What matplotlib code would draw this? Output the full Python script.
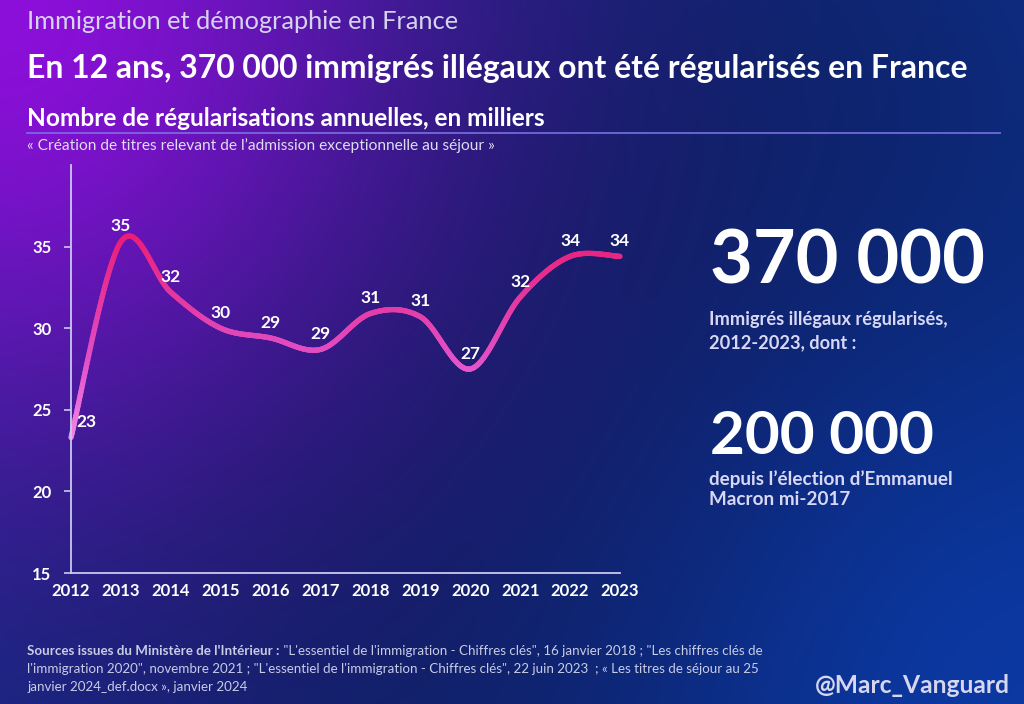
import numpy as np
import matplotlib
matplotlib.use("Agg")
import matplotlib.pyplot as plt
from matplotlib.path import Path
from matplotlib.collections import LineCollection
from matplotlib.colors import LinearSegmentedColormap, to_rgb

# ---------------- data ----------------
years = [2012, 2013, 2014, 2015, 2016, 2017, 2018, 2019, 2020, 2021, 2022, 2023]
values = [23.3, 35.3, 32.2, 30.0, 29.4, 28.7, 30.9, 30.7, 27.5, 31.9, 34.4, 34.4]
value_labels = ["23", "35", "32", "30", "29", "29", "31", "31", "27", "32", "34", "34"]
yticks = [15, 20, 25, 30, 35]

kicker = "Immigration et démographie en France"
title = "En 12 ans, 370 000 immigrés illégaux ont été régularisés en France"
subtitle = "Nombre de régularisations annuelles, en milliers"
note = "« Création de titres relevant de l’admission exceptionnelle au séjour »"
big1 = "370 000"
big1_text = ["Immigrés illégaux régularisés,", "2012-2023, dont :"]
big2 = "200 000"
big2_text = ["depuis l’élection d’Emmanuel", "Macron mi-2017"]
src_bold = "Sources issues du Ministère de l'Intérieur :"
src_lines = [
    " \"L'essentiel de l'immigration - Chiffres clés\", 16 janvier 2018 ; \"Les chiffres clés de",
    "l'immigration 2020\", novembre 2021 ; \"L'essentiel de l'immigration - Chiffres clés\", 22 juin 2023  ; « Les titres de séjour au 25",
    "janvier 2024_def.docx », janvier 2024",
]
handle = "@Marc_Vanguard"

FONT = ["Lato", "DejaVu Sans"]
W, H = 1024, 704
fig = plt.figure(figsize=(W / 100, H / 100), dpi=100)
renderer = fig.canvas.get_renderer()


def fy(py):
    return 1 - py / H


def fx(px):
    return px / W


def fit(t, target_w):
    bb = t.get_window_extent(renderer)
    t.set_fontsize(t.get_fontsize() * target_w / bb.width)
    return t


# ---------------- background ----------------
bg = fig.add_axes([0, 0, 1, 1], zorder=-10)
gh, gw = 352, 512
yy, xx = np.mgrid[0:gh, 0:gw]
x = xx / gw
y = yy / gw
base = np.array(to_rgb("#0a1c56"))
outer = np.array(to_rgb("#0d2a7a"))
violet = np.array(to_rgb("#8c0fd9"))
blue = np.array(to_rgb("#0b3aa6"))
dc = np.sqrt((x - 0.5) ** 2 + (y - 0.38) ** 2)
w0 = np.clip(dc / 0.62, 0, 1) ** 2
img = base[None, None, :] * (1 - w0[..., None]) + outer[None, None, :] * w0[..., None]
d2 = np.sqrt((1 - x) ** 2 + (0.6875 - y) ** 2)
w2 = 0.9 * np.exp(-(d2 / 0.4) ** 2)
img = img * (1 - w2[..., None]) + blue[None, None, :] * w2[..., None]
d1 = np.sqrt(x ** 2 + (y * 0.9) ** 2)
w1 = np.exp(-(d1 / 0.42) ** 1.9)
img = img * (1 - w1[..., None]) + violet[None, None, :] * w1[..., None]
bg.imshow(img, extent=[0, 1, 0, 1], aspect="auto", interpolation="bilinear")
bg.set_xlim(0, 1)
bg.set_ylim(0, 1)
bg.axis("off")

# ---------------- headers ----------------
t = fig.text(fx(27), fy(29), kicker, color="#d6d4ec", fontsize=17, family=FONT,
             fontweight="normal", va="baseline", ha="left")
fit(t, 432)
t = fig.text(fx(27), fy(78), title, color="white", fontsize=22, family=FONT,
             fontweight="bold", va="baseline", ha="left")
fit(t, 941)
t = fig.text(fx(27), fy(126), subtitle, color="white", fontsize=16, family=FONT,
             fontweight="bold", va="baseline", ha="left")
fit(t, 521)
fig.add_artist(plt.Line2D([fx(27), fx(1000)], [fy(133), fy(133)], color="#7a72e6",
                          lw=1.3, alpha=0.9))
t = fig.text(fx(27), fy(150), note, color="#dedcf0", fontsize=9.5, family=FONT,
             va="baseline", ha="left")
fit(t, 470)

# ---------------- chart ----------------
ax = fig.add_axes([fx(71), fy(573), (620 - 71) / W, (573 - 165) / H])
ax.patch.set_alpha(0)
ax.set_xlim(years[0], years[-1])
ax.set_ylim(15, 40)
for s in ["top", "right"]:
    ax.spines[s].set_visible(False)
for s in ["left", "bottom"]:
    ax.spines[s].set_color("#c9c9ef")
    ax.spines[s].set_linewidth(1.3)
ax.set_yticks(yticks)
ax.set_xticks(years)
ax.set_xticklabels([str(v) for v in years])
ax.tick_params(axis="y", length=5, width=1.2, color="#c9c9ef", pad=9,
               labelsize=12, labelcolor="white")
ax.tick_params(axis="x", length=0, pad=7, labelsize=12, labelcolor="white")
for lab in ax.get_xticklabels() + ax.get_yticklabels():
    lab.set_fontweight("bold")
    lab.set_family(FONT)

# smooth (Catmull-Rom style) bezier through the data points
pts = np.column_stack([years, values]).astype(float)
n = len(pts)
verts = [pts[0]]
codes = [Path.MOVETO]
for i in range(n - 1):
    p0 = pts[max(i - 1, 0)]
    p1 = pts[i]
    p2 = pts[i + 1]
    p3 = pts[min(i + 2, n - 1)]
    verts += [p1 + (p2 - p0) / 6, p2 - (p3 - p1) / 6, p2]
    codes += [Path.CURVE4] * 3
path = Path(np.array(verts), codes)
curve = []
for bez, code in path.iter_bezier():
    if code == Path.MOVETO:
        continue
    curve.append(bez(np.linspace(0, 1, 60)))
curve = np.vstack(curve)
segs = np.stack([curve[:-1], curve[1:]], axis=1)
cmap = LinearSegmentedColormap.from_list(
    "pinks", [(0.0, "#f48ae8"), (0.4, "#e150c6"), (1.0, "#e91c74")])
norm = plt.Normalize(23, 36)
lc = LineCollection(segs, colors=cmap(norm(segs[:, :, 1].mean(axis=1))),
                    linewidths=3.8, capstyle="round", joinstyle="round", clip_on=False)
ax.add_collection(lc)

for i, (xv, yv, lab) in enumerate(zip(years, values, value_labels)):
    dx = 11 if i == 0 else 0
    ax.annotate(lab, (xv, yv), xytext=(dx, 11), textcoords="offset points",
                ha="center", va="center", color="white", fontsize=12.5,
                fontweight="bold", family=FONT, annotation_clip=False)

# ---------------- right-hand key figures ----------------
t = fig.text(fx(710), fy(284), big1, color="white", fontsize=50, family=FONT,
             fontweight="bold", va="baseline", ha="left")
fit(t, 275)
for k, line in enumerate(big1_text):
    t = fig.text(fx(709), fy(325 + 23 * k), line, color="#d8d8f6", fontsize=13,
                 family=FONT, fontweight="bold", va="baseline", ha="left")
    if k == 0:
        fit(t, 238)
        size1 = t.get_fontsize()
    else:
        t.set_fontsize(size1)
t = fig.text(fx(710), fy(454), big2, color="white", fontsize=42, family=FONT,
             fontweight="bold", va="baseline", ha="left")
fit(t, 224)
for k, line in enumerate(big2_text):
    t = fig.text(fx(709), fy(485 + 20 * k), line, color="#d8d8f6", fontsize=12,
                 family=FONT, fontweight="bold", va="baseline", ha="left")
    if k == 0:
        fit(t, 242)
        size2 = t.get_fontsize()
    else:
        t.set_fontsize(size2)

# ---------------- sources ----------------
src_col = "#c8cce6"
src_size = 9.6
tb = fig.text(fx(27), fy(655), src_bold, color=src_col, fontsize=src_size, family=FONT,
              fontweight="bold", va="baseline", ha="left")
bbw = tb.get_window_extent(renderer)
fig.text(bbw.x1 / W, fy(655), src_lines[0], color=src_col, fontsize=src_size,
         family=FONT, va="baseline", ha="left")
for k, line in enumerate(src_lines[1:]):
    fig.text(fx(27), fy(673 + 18 * k), line, color=src_col, fontsize=src_size,
             family=FONT, va="baseline", ha="left")
t = fig.text(fx(1010), fy(693), handle, color="#d6d6f0", fontsize=16, family=FONT,
             fontweight="bold", va="baseline", ha="right")
fit(t, 195)

fig.savefig("out.png", dpi=100)
